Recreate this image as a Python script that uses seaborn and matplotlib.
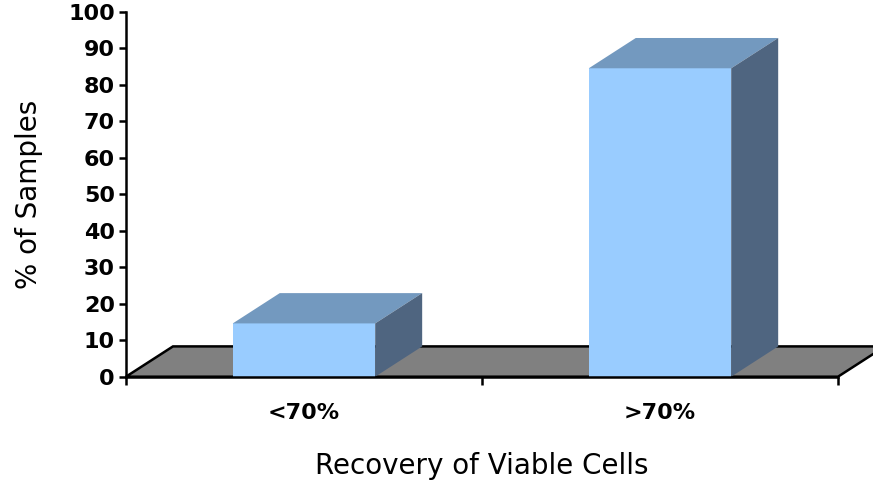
import matplotlib
matplotlib.use("Agg")
import matplotlib.pyplot as plt
import seaborn as sns
from matplotlib.patches import Polygon

# data
categories = ["<70%", ">70%"]
pct_samples = [14.6, 84.5]
y_ticks = list(range(0, 101, 10))

front_color = "#99CCFF"
top_color = "#7399BF"
side_color = "#4F6580"
floor_color = "#808080"

# fake 3d depth (x in category units, y in data units)
depth_x = 0.132
depth_y = 8.3

sns.set_style("ticks")
plt.rcParams["font.family"] = ["DejaVu Sans"]

fig = plt.figure(figsize=(8.73, 4.86), dpi=100)
ax = fig.add_axes([0.1443, 0.2249, 0.8156, 0.751])

sns.barplot(x=categories, y=pct_samples, color=front_color, saturation=1,
            width=0.4, linewidth=0, ax=ax, zorder=3)

ax.set_xlim(-0.5, len(categories) - 0.5)
ax.set_ylim(0, 100)

# floor plane
x_lo, x_hi = -0.5, len(categories) - 0.5
floor = Polygon([(x_lo, 0), (x_hi, 0), (x_hi + depth_x, depth_y), (x_lo + depth_x, depth_y)],
                closed=True, facecolor=floor_color, edgecolor="black", linewidth=1.8,
                zorder=1, clip_on=False)
ax.add_patch(floor)

# top and side faces for every bar
for bar in list(ax.patches):
    if bar is floor:
        continue
    x0, w, h = bar.get_x(), bar.get_width(), bar.get_height()
    top = Polygon([(x0, h), (x0 + w, h), (x0 + w + depth_x, h + depth_y), (x0 + depth_x, h + depth_y)],
                  closed=True, facecolor=top_color, edgecolor="none", zorder=3, clip_on=False)
    side = Polygon([(x0 + w, 0), (x0 + w + depth_x, depth_y), (x0 + w + depth_x, h + depth_y), (x0 + w, h)],
                   closed=True, facecolor=side_color, edgecolor="none", zorder=3, clip_on=False)
    ax.add_patch(top)
    ax.add_patch(side)

sns.despine(ax=ax)
for s in ["left", "bottom"]:
    ax.spines[s].set_linewidth(1.8)
    ax.spines[s].set_color("black")
    ax.spines[s].set_zorder(4)
ax.spines["left"].set_bounds(0, 100)
ax.spines["bottom"].set_bounds(x_lo, x_hi)

ax.set_yticks(y_ticks)
ax.tick_params(axis="y", length=5, width=1.8, labelsize=16, pad=3, colors="black")
ax.tick_params(axis="x", which="major", length=0, labelsize=16, pad=19, colors="black")
ax.set_xticks([x_lo + i for i in range(len(categories) + 1)], minor=True)
ax.tick_params(axis="x", which="minor", length=6, width=1.8, direction="out", colors="black")
for lab in ax.get_xticklabels() + ax.get_yticklabels():
    lab.set_fontweight("bold")

ax.set_ylabel("% of Samples", fontsize=20, labelpad=18, color="black")
ax.set_xlabel("Recovery of Viable Cells", fontsize=20, labelpad=21, color="black")

fig.savefig("out.png", dpi=100)
plt.close(fig)
